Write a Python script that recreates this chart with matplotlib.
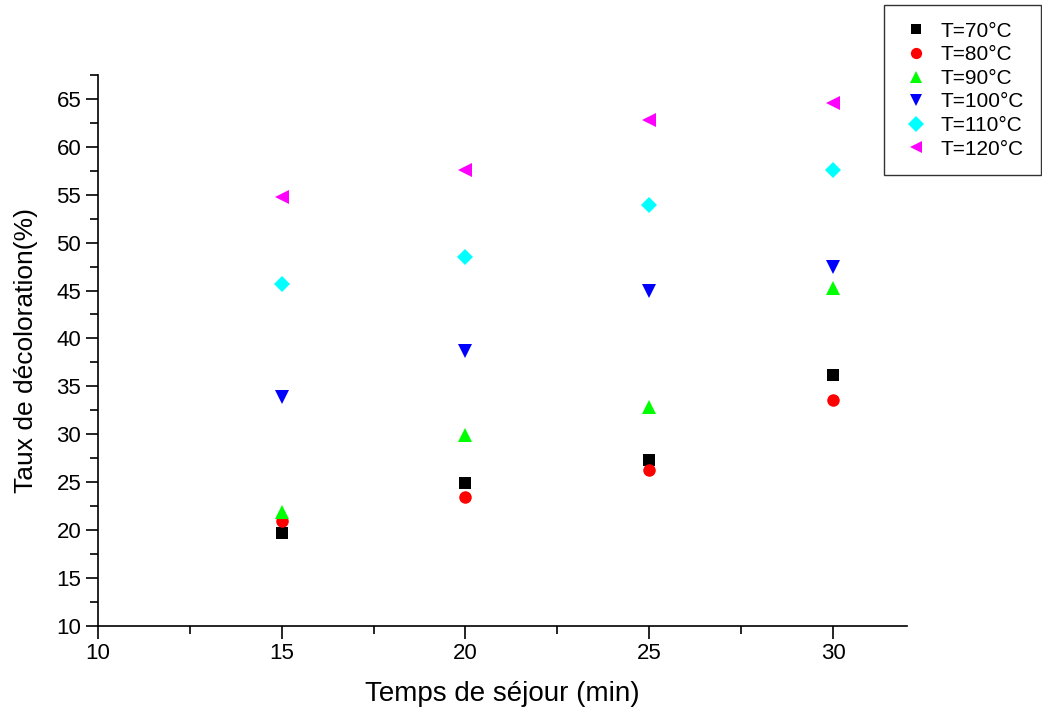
import matplotlib
matplotlib.use("Agg")
import matplotlib.pyplot as plt
from matplotlib.ticker import MultipleLocator

plt.rcParams['font.family'] = ['Liberation Sans', 'DejaVu Sans']

times = [15, 20, 25, 30]
labels = ["T=70°C", "T=80°C", "T=90°C", "T=100°C", "T=110°C", "T=120°C"]
t70 = [19.7, 24.9, 27.3, 36.2]
t80 = [21.0, 23.5, 26.3, 33.6]
t90 = [21.9, 29.9, 32.8, 45.3]
t100 = [33.9, 38.7, 44.9, 47.5]
t110 = [45.7, 48.5, 53.9, 57.6]
t120 = [54.8, 57.6, 62.8, 64.6]
series = [t70, t80, t90, t100, t110, t120]
colors = ["#000000", "#ff0000", "#00ff00", "#0000ff", "#00ffff", "#ff00ff"]
markers = ["s", "o", "^", "v", "D", "<"]
sizes = [8, 9, 10, 10, 8.5, 10]

fig = plt.figure(figsize=(10.42, 7.13), dpi=100)
ax = fig.add_axes([0.094, 0.122, 0.776, 0.773])

handles = []
for ys, c, m, s, lab in zip(series, colors, markers, sizes, labels):
    h, = ax.plot(times, ys, linestyle='none', marker=m, color=c,
                 markersize=s, markeredgewidth=0, label=lab)
    handles.append(h)

ax.set_xlim(10, 32)
ax.set_ylim(10, 67.5)
ax.xaxis.set_major_locator(MultipleLocator(5))
ax.xaxis.set_minor_locator(MultipleLocator(2.5))
ax.yaxis.set_major_locator(MultipleLocator(5))
ax.yaxis.set_minor_locator(MultipleLocator(2.5))
for sp in ['top', 'right']:
    ax.spines[sp].set_visible(False)
for sp in ['left', 'bottom']:
    ax.spines[sp].set_linewidth(1.2)
ax.tick_params(which='major', direction='out', length=9, width=1.2, labelsize=16, pad=3)
ax.tick_params(which='minor', direction='out', length=6, width=1.2)
ax.set_xlabel("Temps de séjour (min)", fontsize=20)
ax.set_ylabel("Taux de décoloration(%)", fontsize=19)
ax.xaxis.set_label_coords(0.5, -0.1)
ax.yaxis.set_label_coords(-0.074, 0.5)

leg = fig.legend(handles=handles, loc='upper right', bbox_to_anchor=(0.999, 0.993),
                 fontsize=15, frameon=True, fancybox=False, edgecolor='black',
                 handlelength=1.5, handletextpad=0.45, borderpad=0.8, labelspacing=0.22,
                 markerscale=0.9, borderaxespad=0)
leg.get_frame().set_linewidth(1.0)

fig.savefig("out.png", dpi=100)
